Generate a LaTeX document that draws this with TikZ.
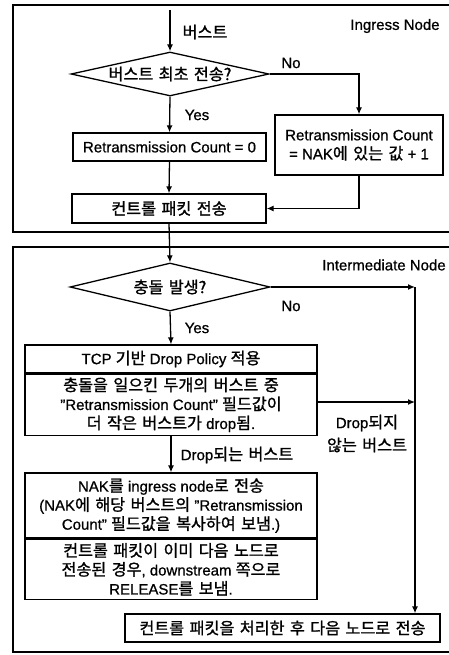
\documentclass[tikz,border=0pt]{standalone}
\usepackage{fontspec}
\setmainfont{Liberation Sans}[UprightFeatures={FakeBold=0.8}]
\newfontfamily\kr{Noto Sans CJK KR}[Scale=1.08,WordSpace=1.5,FakeBold=1.2]
\usetikzlibrary{shapes.geometric,arrows.meta}
\begin{document}
\begin{tikzpicture}[x=1pt,y=-1pt,
  every node/.style={font=\fontsize{15}{19}\selectfont},
  line/.style={line width=1.3pt},
  arr/.style={line width=1.3pt,-{Latex[length=7pt,width=6pt]}},
  box/.style={draw,line width=1.3pt,rectangle,inner sep=0pt,align=center},
  dia/.style={draw,line width=1.3pt,diamond,inner sep=0pt,aspect=4.5},
  frame/.style={line width=1.3pt},
  lbl/.style={inner sep=0pt}]
\useasboundingbox (0,0) rectangle (449,655);
% frames
\draw[frame] (449,5) -- (13,5) -- (13,232) -- (449,232);
\draw[frame] (449,247) -- (13,247) -- (13,652) -- (449,652);
% Ingress part
\coordinate (start) at (170,10);
\node[dia,minimum width=198pt,minimum height=44pt] (d1) at (170,74) {{\kr 버스트 최초 전송?}};
\node[box,minimum width=193pt,minimum height=28pt] (b1) at (169.5,147) {Retransmission Count = 0};
\node[box,minimum width=168pt,minimum height=60pt] (b2) at (359,145) {Retransmission Count\\ = NAK{\kr 에 있는 값} + 1};
\node[box,minimum width=194pt,minimum height=29pt] (b3) at (169,208.5) {{\kr 컨트롤 패킷 전송}};
\node[lbl] (lbus) at (205,32) {{\kr 버스트}};
\node[lbl] (ling) at (395,26) {Ingress Node};
\node[lbl] (lno1) at (291,63) {No};
\node[lbl] (lyes1) at (197,115) {Yes};
\draw[arr] (start) -- (d1.north);
\draw[arr] (d1.south) -- (b1.north);
\draw[arr] (d1.east) -| (b2.north);
\draw[arr] (b1.south) -- (b3.north);
\draw[arr] (b2.south) |- (b3.east);
% Intermediate part
\node[dia,minimum width=200pt,minimum height=48pt] (d2) at (170,287) {{\kr 충돌 발생?}};
\node[lbl] (lint) at (384,265) {Intermediate Node};
\node[lbl] (lno2) at (291,306) {No};
\node[lbl] (lyes2) at (197,328) {Yes};
\node[box,minimum width=292pt,minimum height=28pt] (t1) at (171,359) {TCP {\kr 기반} Drop Policy {\kr 적용}};
\node[box,minimum width=292pt,minimum height=61pt,anchor=north] (t2) at (t1.south) {{\kr 충돌을 일으킨 두개의 버스트 중}\\ "Retransmission Count" {\kr 필드값이}\\ {\kr 더 작은 버스트가} drop{\kr 됨}.};
\node[box,minimum width=292pt,minimum height=65pt] (n1) at (171,505.5) {NAK{\kr 를} ingress node{\kr 로 전송}\\ (NAK{\kr 에 해당 버스트의} "Retransmission\\ Count" {\kr 필드값을 복사하여 보냄}.)};
\node[box,minimum width=292pt,minimum height=60pt,anchor=north] (n2) at (n1.south) {{\kr 컨트롤 패킷이 이미 다음 노드로}\\ {\kr 전송된 경우}, downstream {\kr 쪽으로}\\ RELEASE{\kr 를 보냄}.};
\node[box,minimum width=315pt,minimum height=28pt] (bot) at (282.5,628) {{\kr 컨트롤 패킷을 처리한 후 다음 노드로 전송}};
\node[lbl] (ldrop) at (237,455) {Drop{\kr 되는 버스트}};
\node[lbl] (lnd1) at (367,423) {Drop{\kr 되지}};
\node[lbl] (lnd2) at (367,445) {{\kr 않는 버스트}};
\coordinate (c1) at (415,287);
\coordinate (c2) at (415,402);
\draw[arr] (b3.south) -- (d2.north);
\draw[arr] (d2.east) -- (c1);
\draw[line] (c1) -- (c2);
\draw[arr] (c2) -- (c2 |- bot.north);
\draw[arr] (d2.south) -- (t1.north);
\draw[arr] (t2.east |- c2) -- (c2);
\draw[arr] (t2.south) -- (n1.north);
\end{tikzpicture}
\end{document}
